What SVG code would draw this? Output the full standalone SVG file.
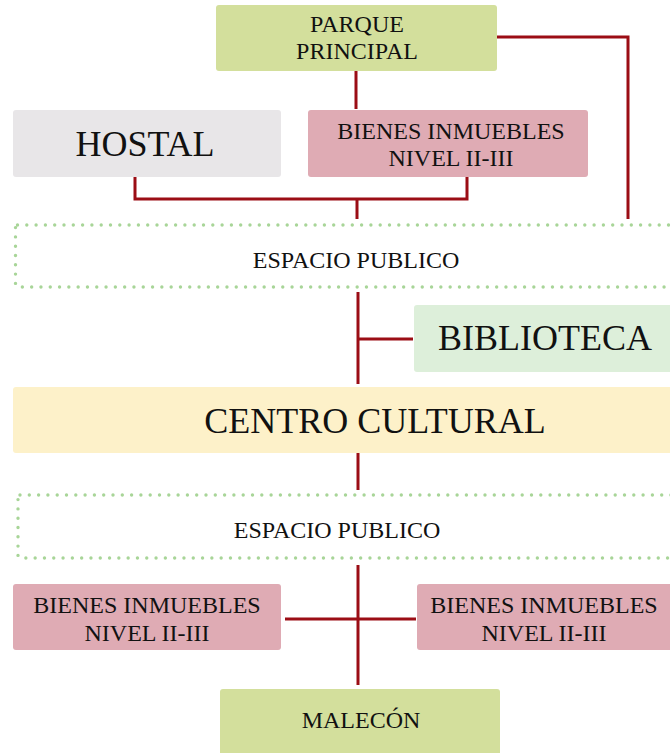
<svg xmlns="http://www.w3.org/2000/svg" width="670" height="753" viewBox="0 0 670 753">
<style>
text{font-family:"Liberation Serif","Times New Roman",serif;fill:#111;text-anchor:middle}
.s{font-size:24px}
.b{font-size:36px}
.box{stroke:none}
.dot{fill:none;stroke:#a8d598;stroke-width:3.4;stroke-linecap:round;stroke-dasharray:0 9.3}
.ln{fill:none;stroke:#9b0d15;stroke-width:3;stroke-linejoin:miter}
</style>
<rect width="670" height="753" fill="#ffffff"/>
<g id="connectors">
<polyline class="ln" points="356,71 356,109"/>
<polyline class="ln" points="497,37 628,37 628,219"/>
<polyline class="ln" points="135,177 135,199 467,199 467,177"/>
<polyline class="ln" points="357,199 357,219"/>
<polyline class="ln" points="358,292 358,384"/>
<polyline class="ln" points="358,339 413,339"/>
<polyline class="ln" points="358,453 358,490"/>
<polyline class="ln" points="358,565 358,685"/>
<polyline class="ln" points="285,619 416,619"/>
</g>
<g id="parque">
<rect class="box" x="216" y="5" width="281" height="66" rx="3" fill="#d3df9c"/>
<text class="s" x="357" y="32">PARQUE</text>
<text class="s" x="357" y="59">PRINCIPAL</text>
</g>
<g id="hostal">
<rect class="box" x="13" y="110" width="268" height="67" rx="3" fill="#e8e6e8"/>
<text class="b" x="145" y="156">HOSTAL</text>
</g>
<g id="bienes-top">
<rect class="box" x="308" y="110" width="280" height="67" rx="3" fill="#dfabb4"/>
<text class="s" x="451" y="139">BIENES INMUEBLES</text>
<text class="s" x="451" y="166">NIVEL II-III</text>
</g>
<g id="espacio1">
<rect class="dot" x="15.5" y="225" width="700" height="62" rx="2"/>
<text class="s" x="356" y="268">ESPACIO PUBLICO</text>
</g>
<g id="biblioteca">
<rect class="box" x="414" y="305" width="300" height="67" rx="3" fill="#ddefda"/>
<text class="b" x="545" y="350">BIBLIOTECA</text>
</g>
<g id="centro">
<rect class="box" x="13" y="387" width="720" height="66" rx="3" fill="#fdf1c9"/>
<text class="b" x="375" y="433">CENTRO CULTURAL</text>
</g>
<g id="espacio2">
<rect class="dot" x="18" y="495" width="700" height="63" rx="2"/>
<text class="s" x="337" y="538">ESPACIO PUBLICO</text>
</g>
<g id="bienes-left">
<rect class="box" x="13" y="584" width="268" height="66" rx="3" fill="#dfabb4"/>
<text class="s" x="147" y="613">BIENES INMUEBLES</text>
<text class="s" x="147" y="641">NIVEL II-III</text>
</g>
<g id="bienes-right">
<rect class="box" x="417" y="584" width="300" height="66" rx="3" fill="#dfabb4"/>
<text class="s" x="544" y="613">BIENES INMUEBLES</text>
<text class="s" x="544" y="641">NIVEL II-III</text>
</g>
<g id="malecon">
<rect class="box" x="220" y="689" width="280" height="80" rx="3" fill="#d3df9c"/>
<text class="s" x="361" y="728">MALECÓN</text>
</g>
</svg>
